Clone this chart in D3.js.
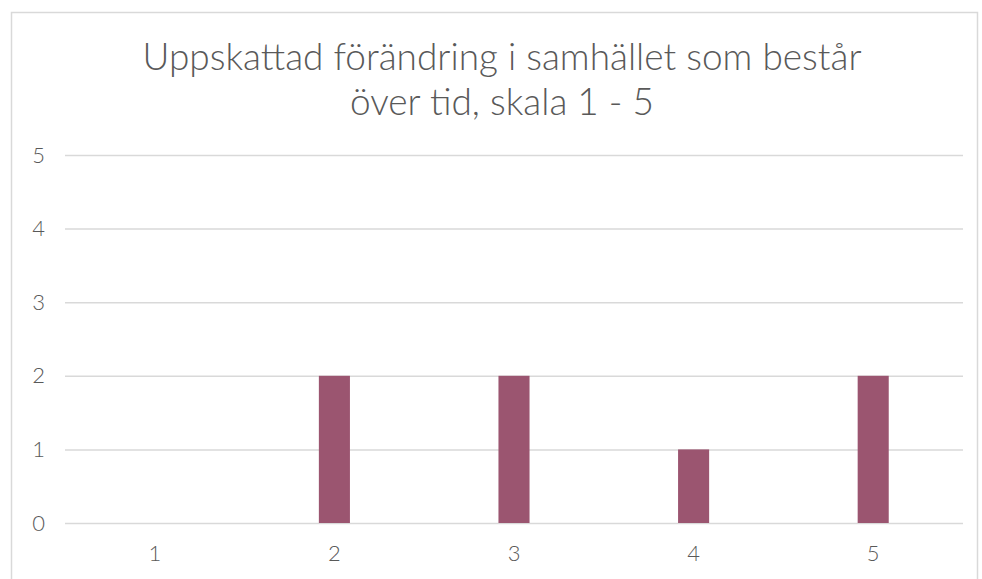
<!DOCTYPE html>
<html><head><meta charset="utf-8">
<script src="https://cdn.jsdelivr.net/npm/d3@7"></script>
<style>body{margin:0;background:#fff}svg{display:block}</style>
</head><body><svg id="c" width="982" height="579"></svg>
<script>
const categories = ["1","2","3","4","5"];
const values = [0,2,2,1,2];
const yTicks = [0,1,2,3,4,5];
const titleLines = ["Uppskattad förändring i samhället som består","över tid, skala 1 - 5"];

const svg = d3.select("#c");
const W = 982, H = 579;
const m = {left:65, right:19, top:155, bottom:56};
const font = "Lato, 'Open Sans', sans-serif";
const gray = "#595959";

svg.append("rect").attr("x",11.5).attr("y",12.5).attr("width",966).attr("height",600)
  .attr("fill","#fff").attr("stroke","#d9d9d9").attr("stroke-width",1.5);

const x = d3.scaleBand().domain(categories).range([m.left, W-m.right]).paddingInner(0.827).paddingOuter(0.4135);
const y = d3.scaleLinear().domain([0,5]).range([H-m.bottom, m.top]);

const t = svg.append("text").attr("text-anchor","middle").attr("fill",gray)
  .style("font-family",font).style("font-weight",300).style("font-size","37px");
titleLines.forEach((l,i)=>t.append("tspan").attr("x",502).attr("y",70+i*45).text(l));

const yAxis = svg.append("g").attr("transform",`translate(${m.left},0)`)
  .call(d3.axisLeft(y).tickValues(yTicks).tickSize(-(W-m.left-m.right)).tickPadding(20).tickFormat(d3.format("d")));
yAxis.select(".domain").remove();
yAxis.selectAll("line").attr("stroke","#d9d9d9").attr("stroke-width",1.5);
yAxis.selectAll("text").attr("fill",gray).style("font-family",font).style("font-weight",300).style("font-size","22px");

svg.append("g").selectAll("rect").data(values).join("rect")
  .attr("x",(d,i)=>x(categories[i])).attr("width",x.bandwidth())
  .attr("y",d=>y(d)).attr("height",d=>y(0)-y(d)).attr("fill","#9b5570");

const xAxis = svg.append("g").attr("transform",`translate(0,${H-m.bottom})`)
  .call(d3.axisBottom(x).tickSize(0).tickPadding(22));
xAxis.select(".domain").remove();
xAxis.selectAll("text").attr("fill",gray).style("font-family",font).style("font-weight",300).style("font-size","22px");
</script></body></html>
